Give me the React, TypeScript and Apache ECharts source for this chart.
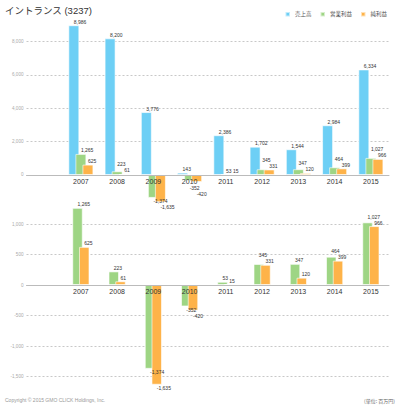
import React, { useEffect, useRef } from 'react';
import * as echarts from 'echarts';

const years = ['2007', '2008', '2009', '2010', '2011', '2012', '2013', '2014', '2015'];
const sales = [8986, 8200, 3776, 143, 2386, 1702, 1544, 2984, 6334];
const operatingProfit = [1265, 223, -1374, -352, 53, 345, 347, 464, 1027];
const netProfit = [625, 61, -1635, -420, 15, 331, 120, 399, 966];
const topTicks = [0, 2000, 4000, 6000, 8000];
const bottomTicks = [-1500, -1000, -500, 0, 500, 1000];
const seriesNames = ['売上高', '営業利益', '純利益'];
const colors = ['#6dcff5', '#9ed584', '#feb349'];

const fmt = (v: number) => Number(v).toLocaleString('en-US');

const LABEL_FS = 5;
function textW(s: string) {
  let w = 0;
  for (const ch of s) w += ch === ',' ? 0.278 : ch === '-' ? 0.333 : 0.556;
  return w * LABEL_FS;
}

function lineColors(min: number, max: number, step: number, ticks: number[]) {
  const out: string[] = [];
  for (let v = min; v <= max; v += step) {
    out.push(ticks.includes(v) && v !== 0 ? '#c8c8c8' : 'rgba(0,0,0,0)');
  }
  return out;
}

// compute small vertical label shifts so neighbouring labels don't collide
function labelShifts(g: number[], o: number[], ppu: number, axisBand: number, step: number) {
  const LH = 6;
  const gs: number[] = [];
  const os: number[] = [];
  g.forEach((gv, i) => {
    const ov = o[i];
    let gOff = 0;
    let oOff = 0;
    const gw = textW(fmt(gv));
    if (gv >= 0 && ov >= 0) {
      const diff = (gv - ov) * ppu;
      if (gw > step - 1 && diff < LH) gOff = -(LH - diff);
    } else if (gv < 0 && ov < 0) {
      const gTop = -gv * ppu + 1;
      if (gTop < axisBand) gOff = axisBand - gTop;
      const gFinal = gTop + gOff;
      const oTop = -ov * ppu + 1;
      if (gw > step - 1 && oTop < gFinal + LH) oOff = gFinal + LH - oTop;
    }
    gs.push(gOff);
    os.push(oOff);
  });
  return [gs, os];
}

function mk(vals: number[], shifts?: number[]) {
  return [
    '-',
    ...vals.map((v, i) => ({
      value: v,
      label: { position: v < 0 ? 'bottom' : 'top', offset: [0, shifts ? shifts[i] : 0] },
    })),
  ];
}

const TOP = { top: 8.33, height: 200, min: -2000, max: 10000, interval: 2000 };
const BOT = { top: 193.5, height: 213.5, min: -2000, max: 1500, interval: 500 };

export default function App() {
  const ref = useRef<HTMLDivElement>(null);
  useEffect(() => {
    document.body.style.margin = '0';
    const chart = echarts.init(ref.current!, null, { renderer: 'svg' });
    const cats = ['', ...years];
    const ppuTop = TOP.height / (TOP.max - TOP.min);
    const ppuBot = BOT.height / (BOT.max - BOT.min);
    const zeroOffTop = -TOP.height * (0 - TOP.min) / (TOP.max - TOP.min);
    const zeroOffBot = -BOT.height * (0 - BOT.min) / (BOT.max - BOT.min);
    const [gTop, oTop] = labelShifts(operatingProfit, netProfit, ppuTop, 10.5, 7);
    const [gBot, oBot] = labelShifts(operatingProfit, netProfit, ppuBot, 10.5, 6.7);

    const labelCommon = {
      show: true,
      fontSize: LABEL_FS,
      color: '#333',
      align: 'left',
      distance: 1,
      fontFamily: 'Liberation Sans',
      formatter: (p: any) => fmt(p.value),
    };
    const xAxisCommon = {
      type: 'category',
      data: cats,
      z: 3,
      axisTick: { show: false },
      axisLine: { onZero: false, lineStyle: { color: '#bbb', width: 1 } },
      axisLabel: { fontSize: 7, color: '#333', margin: 3, fontFamily: 'Liberation Sans' },
    };
    const yLabel = (ticks: number[]) => ({
      fontSize: 4.6,
      color: '#aaa',
      margin: 3,
      fontFamily: 'Liberation Sans',
      formatter: (v: number) => (ticks.includes(v) ? fmt(v) : ''),
    });
    const itemStyle = (c: string) => ({ color: c, borderColor: 'rgba(255,255,255,0.6)', borderWidth: 1 });
    chart.setOption({
      animation: false,
      title: {
        text: 'イントランス (3237)',
        left: 0,
        top: 0,
        padding: [6, 5],
        textStyle: { fontSize: 9.5, fontWeight: 'normal', color: '#333', fontFamily: 'Liberation Sans, Noto Sans CJK JP' },
      },
      legend: {
        data: seriesNames,
        right: 7,
        top: 6,
        icon: 'rect',
        itemWidth: 4.5,
        itemHeight: 4.5,
        itemGap: 8,
        textStyle: { fontSize: 5.5, color: '#555', fontFamily: 'Noto Sans CJK JP' },
      },
      grid: [
        { left: 26.5, right: 10, top: TOP.top, height: TOP.height },
        { left: 26.5, right: 10, top: BOT.top, height: BOT.height },
      ],
      xAxis: [
        { ...xAxisCommon, gridIndex: 0, offset: zeroOffTop },
        { ...xAxisCommon, gridIndex: 1, offset: zeroOffBot },
      ],
      yAxis: [
        {
          type: 'value', gridIndex: 0, min: TOP.min, max: TOP.max, interval: TOP.interval,
          axisLine: { show: false }, axisTick: { show: false },
          axisLabel: yLabel(topTicks),
          splitLine: { lineStyle: { color: lineColors(TOP.min, TOP.max, TOP.interval, topTicks), type: [2, 2], width: 1 } },
        },
        {
          type: 'value', gridIndex: 1, min: BOT.min, max: BOT.max, interval: BOT.interval,
          axisLine: { show: false }, axisTick: { show: false },
          axisLabel: yLabel(bottomTicks),
          splitLine: { lineStyle: { color: lineColors(BOT.min, BOT.max, BOT.interval, bottomTicks), type: [2, 2], width: 1 } },
        },
      ],
      graphic: [
        {
          type: 'text', left: 5, top: 397.5,
          style: { text: 'Copyright © 2015 GMO CLICK Holdings, Inc.', fontSize: 5, fill: '#999', fontFamily: 'Liberation Sans' },
        },
        {
          type: 'text', right: 4, top: 397.5,
          style: { text: '(単位: 百万円)', fontSize: 5, fill: '#666', fontFamily: 'Noto Sans CJK JP' },
        },
      ],
      series: [
        { name: seriesNames[0], type: 'bar', xAxisIndex: 0, yAxisIndex: 0, barWidth: 11, barGap: '-36%', data: mk(sales), itemStyle: itemStyle(colors[0]), label: labelCommon },
        { name: seriesNames[1], type: 'bar', xAxisIndex: 0, yAxisIndex: 0, barWidth: 11, barGap: '-36%', data: mk(operatingProfit, gTop), itemStyle: itemStyle(colors[1]), label: labelCommon },
        { name: seriesNames[2], type: 'bar', xAxisIndex: 0, yAxisIndex: 0, barWidth: 11, barGap: '-36%', data: mk(netProfit, oTop), itemStyle: itemStyle(colors[2]), label: labelCommon },
        { name: seriesNames[1], type: 'bar', xAxisIndex: 1, yAxisIndex: 1, barWidth: 10.5, barGap: '-36%', data: mk(operatingProfit, gBot), itemStyle: itemStyle(colors[1]), label: labelCommon },
        { name: seriesNames[2], type: 'bar', xAxisIndex: 1, yAxisIndex: 1, barWidth: 10.5, barGap: '-36%', data: mk(netProfit, oBot), itemStyle: itemStyle(colors[2]), label: labelCommon },
      ],
    });
    return () => chart.dispose();
  }, []);
  return <div ref={ref} style={{ width: 399, height: 409 }} />;
}
